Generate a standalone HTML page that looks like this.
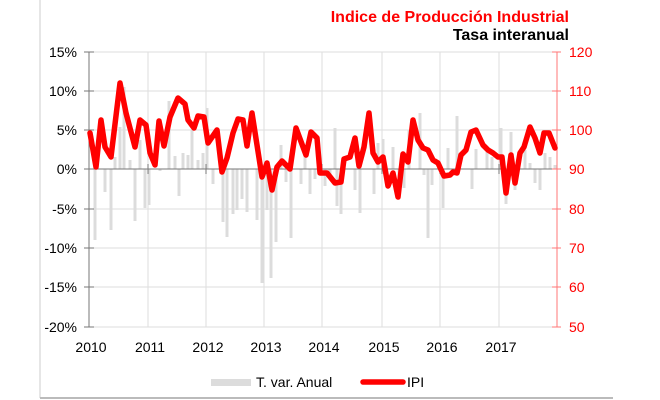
<!DOCTYPE html>
<html><head><meta charset="utf-8"><style>
html,body{margin:0;padding:0;background:#fff;width:660px;height:400px;overflow:hidden}
svg{display:block;font-family:"Liberation Sans",Arial,sans-serif}
</style></head><body>
<svg width="660" height="400" viewBox="0 0 660 400" xmlns="http://www.w3.org/2000/svg">
<line x1="40" y1="0" x2="40" y2="398" stroke="#ccc" stroke-width="1"/>
<line x1="40" y1="398" x2="613" y2="398" stroke="#bbb" stroke-width="2"/>
<text x="569" y="22" text-anchor="end" font-size="16" font-weight="bold" fill="#f00">Indice de Producción Industrial</text>
<text x="569" y="40" text-anchor="end" font-size="16" font-weight="bold" fill="#000">Tasa interanual</text>
<g stroke="#ddd" stroke-width="1">
<line x1="89" y1="52" x2="557" y2="52"/><line x1="89" y1="91" x2="557" y2="91"/><line x1="89" y1="130" x2="557" y2="130"/><line x1="89" y1="209" x2="557" y2="209"/><line x1="89" y1="248" x2="557" y2="248"/><line x1="89" y1="287" x2="557" y2="287"/><line x1="89" y1="327" x2="557" y2="327"/>
<line x1="148" y1="52" x2="148" y2="327"/><line x1="206" y1="52" x2="206" y2="327"/><line x1="264" y1="52" x2="264" y2="327"/><line x1="322" y1="52" x2="322" y2="327"/><line x1="382" y1="52" x2="382" y2="327"/><line x1="440" y1="52" x2="440" y2="327"/><line x1="499" y1="52" x2="499" y2="327"/>
</g>
<g stroke="#dcdcdc" stroke-width="3">
<line x1="95" y1="169" x2="95" y2="240"/><line x1="105" y1="169" x2="105" y2="192"/><line x1="111" y1="169" x2="111" y2="230"/><line x1="115" y1="169" x2="115" y2="157"/><line x1="120" y1="169" x2="120" y2="127"/><line x1="124" y1="169" x2="124" y2="87"/><line x1="130" y1="169" x2="130" y2="160"/><line x1="135" y1="169" x2="135" y2="221"/><line x1="140" y1="169" x2="140" y2="140"/><line x1="145" y1="169" x2="145" y2="208"/><line x1="149" y1="169" x2="149" y2="205"/><line x1="160" y1="169" x2="160" y2="171"/><line x1="169" y1="169" x2="169" y2="101"/><line x1="175" y1="169" x2="175" y2="156"/><line x1="179" y1="169" x2="179" y2="196"/><line x1="183" y1="169" x2="183" y2="153"/><line x1="188" y1="169" x2="188" y2="155"/><line x1="192" y1="169" x2="192" y2="130"/><line x1="198" y1="169" x2="198" y2="160"/><line x1="203" y1="169" x2="203" y2="153"/><line x1="207" y1="169" x2="207" y2="108"/><line x1="213" y1="169" x2="213" y2="184"/><line x1="223" y1="169" x2="223" y2="222"/><line x1="227" y1="169" x2="227" y2="237"/><line x1="233" y1="169" x2="233" y2="214"/><line x1="237" y1="169" x2="237" y2="210"/><line x1="242" y1="169" x2="242" y2="199"/><line x1="247" y1="169" x2="247" y2="212"/><line x1="257" y1="169" x2="257" y2="220"/><line x1="262" y1="169" x2="262" y2="283"/><line x1="267" y1="169" x2="267" y2="210"/><line x1="271" y1="169" x2="271" y2="278"/><line x1="276" y1="169" x2="276" y2="242"/><line x1="281" y1="169" x2="281" y2="145"/><line x1="286" y1="169" x2="286" y2="182"/><line x1="291" y1="169" x2="291" y2="238"/><line x1="301" y1="169" x2="301" y2="184"/><line x1="305" y1="169" x2="305" y2="155"/><line x1="310" y1="169" x2="310" y2="194"/><line x1="315" y1="169" x2="315" y2="179"/><line x1="325" y1="169" x2="325" y2="186"/><line x1="330" y1="169" x2="330" y2="175"/><line x1="335" y1="169" x2="335" y2="128"/><line x1="337" y1="169" x2="337" y2="206"/><line x1="341" y1="169" x2="341" y2="214"/><line x1="355" y1="169" x2="355" y2="190"/><line x1="360" y1="169" x2="360" y2="213"/><line x1="374" y1="169" x2="374" y2="194"/><line x1="378" y1="169" x2="378" y2="143"/><line x1="383" y1="169" x2="383" y2="139"/><line x1="393" y1="169" x2="393" y2="147"/><line x1="399" y1="169" x2="399" y2="178"/><line x1="404" y1="169" x2="404" y2="188"/><line x1="409" y1="169" x2="409" y2="130"/><line x1="420" y1="169" x2="420" y2="113"/><line x1="424" y1="169" x2="424" y2="175"/><line x1="428" y1="169" x2="428" y2="238"/><line x1="432" y1="169" x2="432" y2="185"/><line x1="443" y1="169" x2="443" y2="208"/><line x1="448" y1="169" x2="448" y2="148"/><line x1="457" y1="169" x2="457" y2="116"/><line x1="472" y1="169" x2="472" y2="189"/><line x1="476" y1="169" x2="476" y2="149"/><line x1="487" y1="169" x2="487" y2="152"/><line x1="492" y1="169" x2="492" y2="157"/><line x1="501" y1="169" x2="501" y2="128"/><line x1="506" y1="169" x2="506" y2="204"/><line x1="511" y1="169" x2="511" y2="132"/><line x1="515" y1="169" x2="515" y2="190"/><line x1="525" y1="169" x2="525" y2="150"/><line x1="530" y1="169" x2="530" y2="163"/><line x1="535" y1="169" x2="535" y2="183"/><line x1="540" y1="169" x2="540" y2="190"/><line x1="545" y1="169" x2="545" y2="153"/><line x1="550" y1="169" x2="550" y2="157"/><line x1="555" y1="169" x2="555" y2="165"/>
</g>
<line x1="89" y1="169" x2="557" y2="169" stroke="#777" stroke-width="1"/>
<g stroke="#777" stroke-width="1"><line x1="148" y1="164" x2="148" y2="174"/><line x1="206" y1="164" x2="206" y2="174"/><line x1="264" y1="164" x2="264" y2="174"/><line x1="322" y1="164" x2="322" y2="174"/><line x1="382" y1="164" x2="382" y2="174"/><line x1="440" y1="164" x2="440" y2="174"/><line x1="499" y1="164" x2="499" y2="174"/></g>
<g stroke="#777" stroke-width="1">
<line x1="89" y1="52" x2="89" y2="327"/>
<line x1="84" y1="52" x2="94" y2="52"/><line x1="84" y1="91" x2="94" y2="91"/><line x1="84" y1="130" x2="94" y2="130"/><line x1="84" y1="169" x2="94" y2="169"/><line x1="84" y1="209" x2="94" y2="209"/><line x1="84" y1="248" x2="94" y2="248"/><line x1="84" y1="287" x2="94" y2="287"/><line x1="84" y1="327" x2="94" y2="327"/>
</g>
<g stroke="#f77" stroke-width="1">
<line x1="557" y1="52" x2="557" y2="327"/>
<line x1="552" y1="52" x2="561" y2="52"/><line x1="552" y1="91" x2="561" y2="91"/><line x1="552" y1="130" x2="561" y2="130"/><line x1="552" y1="169" x2="561" y2="169"/><line x1="552" y1="209" x2="561" y2="209"/><line x1="552" y1="248" x2="561" y2="248"/><line x1="552" y1="287" x2="561" y2="287"/><line x1="552" y1="327" x2="561" y2="327"/>
</g>
<polyline fill="none" stroke="#f00" stroke-width="5.5" stroke-linejoin="round" stroke-linecap="round" points="90,133 96,167 101,120 105,147 111,157 120,83 126,113 135,147 140,120 146,125 150,153 155,165 159,121 164,146 170,117 178,98 185,104 188,120 194,128 198,116 204,117 208,143 217,130 222,172 227,158 233,133 238,119 243,120 247,146 252,113 262,177 267,163 272,190 277,167 282,161 290,169 296,128 306,155 311,132 317,138 320,173 327,173 335,183 341,182 344,159 350,157 355,138 359,166 364,147 369,113 373,153 378,162 383,157 388,186 393,173 398,197 403,154 408,162 413,120 418,140 423,148 428,150 433,160 438,163 444,176 450,175 453,172 457,173 461,155 466,150 471,132 476,130 483,145 488,150 493,153 498,157 502,157 506,193 511,155 515,183 520,153 524,147 530,127 535,138 540,153 544,133 549,133 555,148"/>
<g font-size="14" fill="#000" text-anchor="end">
<text x="77" y="57">15%</text><text x="77" y="96">10%</text><text x="77" y="135">5%</text><text x="77" y="174">0%</text><text x="77" y="214">-5%</text><text x="77" y="253">-10%</text><text x="77" y="292">-15%</text><text x="77" y="332">-20%</text>
</g>
<g font-size="14" fill="#f00">
<text x="569" y="57">120</text><text x="569" y="96">110</text><text x="569" y="135">100</text><text x="569" y="174">90</text><text x="569" y="214">80</text><text x="569" y="253">70</text><text x="569" y="292">60</text><text x="569" y="332">50</text>
</g>
<g font-size="14" fill="#000" text-anchor="middle">
<text x="91" y="352">2010</text><text x="150" y="352">2011</text><text x="208" y="352">2012</text><text x="266" y="352">2013</text><text x="324" y="352">2014</text><text x="384" y="352">2015</text><text x="442" y="352">2016</text><text x="501" y="352">2017</text>
</g>
<rect x="211" y="379" width="40" height="7" fill="#dcdcdc"/>
<text x="256" y="387" font-size="14">T. var. Anual</text>
<line x1="363" y1="382" x2="403" y2="382" stroke="#f00" stroke-width="5.5" stroke-linecap="round"/>
<text x="407" y="387" font-size="14">IPI</text>
</svg>
</body></html>
